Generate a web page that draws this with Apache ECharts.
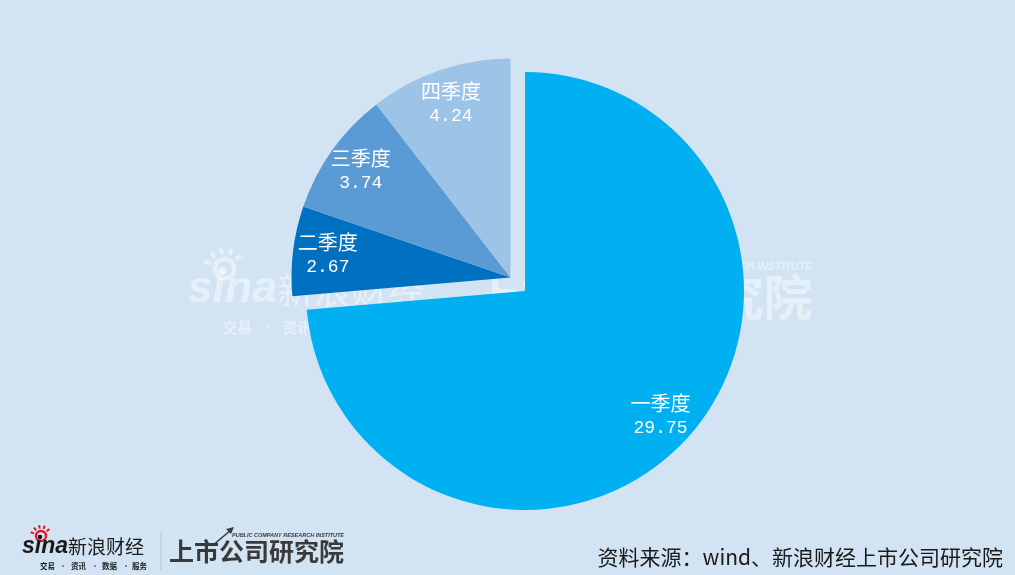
<!DOCTYPE html>
<html>
<head>
<meta charset="utf-8">
<script src="https://cdn.jsdelivr.net/npm/echarts@6/dist/echarts.min.js"></script>
<style>
html,body{margin:0;padding:0;background:#D2E4F3;}
#chart{width:1015px;height:575px;}
</style>
</head>
<body>
<div id="chart"></div>
<script>
// ---- data ----
const categories = ['一季度', '二季度', '三季度', '四季度'];
const values = [29.75, 2.67, 3.74, 4.24];
const sliceColors = ['#00B0F0', '#0070C0', '#5B9BD5', '#9DC3E6'];
const sourceText = '资料来源：wind、新浪财经上市公司研究院';
const logoName = '新浪财经';
const logoTags = ['交易', '资讯', '数据', '服务'];
const instituteName = '上市公司研究院';
const instituteEn = 'PUBLIC COMPANY RESEARCH INSTITUTE';

const BIG = [0];
const SMALL = [1, 2, 3];
const R = 219;
const bigCenter = [525, 291];
const smallCenter = [510.5, 277.5];
const TRANSPARENT = 'rgba(0,0,0,0)';

function dataFor(idx, visible, labels) {
  return categories.map((c, i) => ({
    name: c,
    value: values[i],
    itemStyle: { color: (visible && idx.includes(i)) ? sliceColors[i] : TRANSPARENT },
    label: { show: labels && idx.includes(i) }
  }));
}

const labelStyle = {
  position: 'inside',
  formatter: '{a|{b}}\n{n|{c}}',
  rich: {
    a: { fontSize: 20, fontFamily: '"Noto Sans CJK SC"', color: '#fff', lineHeight: 25, align: 'center' },
    n: { fontSize: 18, fontFamily: '"Liberation Mono"', color: '#fff', lineHeight: 25, align: 'center' }
  }
};

function pieSeries(center, radius, idx, visible, labels) {
  return {
    type: 'pie',
    center: center,
    radius: radius,
    startAngle: 90,
    clockwise: true,
    silent: true,
    animation: false,
    avoidLabelOverlap: false,
    label: labels ? Object.assign({ show: true }, labelStyle) : { show: false },
    labelLine: { show: false },
    itemStyle: { borderWidth: 0 },
    data: dataFor(idx, visible, labels)
  };
}

// ---- logo drawing (used for footer and watermark) ----
function logoElements(white) {
  const red = white ? '#fff' : '#E6162D';
  const dark = white ? '#fff' : '#1a1a1a';
  const gray = white ? '#fff' : '#3a3a3a';
  const els = [];
  els.push({ type: 'circle', shape: { cx: 41, cy: 536, r: 5 }, style: { fill: 'none', stroke: red, lineWidth: 2.4 } });
  els.push({ type: 'circle', shape: { cx: 40, cy: 537, r: 2.2 }, style: { fill: dark } });
  [-160, -130, -100, -70, -40].forEach(a => {
    const t = a * Math.PI / 180;
    els.push({ type: 'line', shape: { x1: 41 + Math.cos(t) * 7.5, y1: 536 + Math.sin(t) * 7.5, x2: 41 + Math.cos(t) * 11, y2: 536 + Math.sin(t) * 11 }, style: { stroke: red, lineWidth: 2 } });
  });
  els.push({ type: 'text', style: { text: 'sina', x: 22, y: 547, font: 'italic bold 23px "Liberation Sans"', fill: dark, textAlign: 'left', textVerticalAlign: 'middle' } });
  els.push({ type: 'text', style: { text: logoName, x: 68, y: 547, font: '19px "Noto Sans CJK SC"', fill: dark, textAlign: 'left', textVerticalAlign: 'middle' } });
  const tagX = [40, 71, 102, 132];
  logoTags.forEach((t, i) => {
    els.push({ type: 'text', style: { text: t, x: tagX[i], y: 566, font: 'bold 7.5px "Noto Sans CJK SC"', fill: dark, textAlign: 'left', textVerticalAlign: 'middle' } });
  });
  [63, 95, 126].forEach(x => {
    els.push({ type: 'circle', shape: { cx: x, cy: 566, r: 0.8 }, style: { fill: dark } });
  });
  if (!white) {
    els.push({ type: 'line', shape: { x1: 161, y1: 531, x2: 161, y2: 570 }, style: { stroke: '#b8c4cf', lineWidth: 1 } });
  }
  els.push({ type: 'text', style: { text: instituteName, x: 169, y: 551, font: 'bold 25px "Noto Sans CJK SC"', fill: gray, textAlign: 'left', textVerticalAlign: 'middle' } });
  els.push({ type: 'line', shape: { x1: 212, y1: 546, x2: 231, y2: 530 }, style: { stroke: gray, lineWidth: 1.6 } });
  els.push({ type: 'polygon', shape: { points: [[234, 527], [226, 529], [231, 534]] }, style: { fill: gray } });
  els.push({ type: 'text', style: { text: instituteEn, x: 232, y: 535, font: 'italic bold 5.5px "Liberation Sans"', fill: gray, textAlign: 'left', textVerticalAlign: 'middle' } });
  return els;
}

const chart = echarts.init(document.getElementById('chart'), null, { renderer: 'canvas', width: 1015, height: 575 });
chart.setOption({
  backgroundColor: '#D2E4F3',
  animation: false,
  graphic: [
    { type: 'group', x: 145, y: -771, scaleX: 1.94, scaleY: 1.94, z: 0, silent: true,
      children: logoElements(true).map(e => Object.assign(e, { style: Object.assign(e.style, { opacity: 0.45 }) })) },
    { type: 'group', x: 0, y: 0, z: 0, silent: true, children: logoElements(false) },
    { type: 'text', z: 5, style: { text: sourceText, x: 1003, y: 557, font: '21px "Noto Sans CJK SC"', fill: '#1a1a1a', textAlign: 'right', textVerticalAlign: 'middle' } }
  ],
  series: [
    pieSeries(bigCenter, [0, R], BIG, true, false),
    pieSeries(smallCenter, [0, R], SMALL, true, false),
    pieSeries(bigCenter, [143, R], BIG, false, true),
    pieSeries(smallCenter, [143, R], SMALL, false, true)
  ]
});
</script>
</body>
</html>
